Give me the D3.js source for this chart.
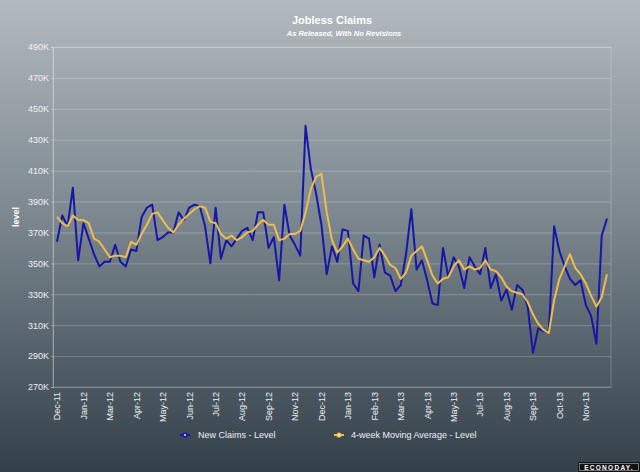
<!DOCTYPE html>
<html>
<head>
<meta charset="utf-8">
<script src="https://cdn.jsdelivr.net/npm/d3@7"></script>
<style>
  html, body { margin: 0; padding: 0; background: #3a4650; }
  svg { display: block; font-family: "Liberation Sans", Arial, sans-serif; }
</style>
</head>
<body>
<svg id="chart" width="640" height="472"></svg>
<script>
// weekly initial claims, as released (thousands), Dec-11 .. Dec-13
const newClaims = [
  364, 381, 374, 399, 352, 376, 366, 356, 348, 351, 351, 362, 351, 348, 359, 358, 380, 386, 388, 365,
  367, 370, 370, 383, 378, 386, 388, 387, 374, 350, 386, 353, 365, 361, 366, 371, 373, 365, 383, 383,
  360, 367, 339, 388, 368, 362, 355, 439, 411, 395, 375, 343, 361, 351, 372, 371, 337, 332, 368, 366,
  341, 362, 344, 342, 332, 336, 356, 385, 346, 352, 339, 324, 323, 360, 341, 354, 348, 334, 354, 348,
  343, 360, 334, 343, 326, 333, 320, 336, 333, 322, 292, 308, 306, 306, 374, 358, 348, 340, 336, 339,
  323, 316, 298, 368, 379
];
const movingAvg = [
  380, 376, 374, 381, 378, 378, 376, 366, 364, 359, 354, 355, 355, 354, 364, 362, 369, 375, 382, 383,
  378, 373, 370, 375, 379, 382, 385, 387, 386, 377, 376, 369, 366, 368, 365, 367, 370, 371, 375, 378,
  375, 375, 365, 366, 369, 369, 371, 383, 398, 406, 408, 383, 365, 357, 361, 366, 359, 353, 352, 351,
  354, 360, 355, 349, 347, 340, 344, 355, 358, 361, 352, 342, 337, 340, 341, 348, 352, 346, 348, 346,
  347, 352, 346, 345, 341, 335, 332, 331, 330, 325, 317, 311, 307, 305, 326, 340, 348, 356, 347, 343,
  337, 329, 322, 328, 343
];
// one label every 5th week
const tickLabels = [
  "Dec-11", "Jan-12", "Mar-12", "Apr-12", "May-12", "Jun-12", "Jul-12", "Aug-12", "Sep-12", "Nov-12",
  "Dec-12", "Jan-13", "Feb-13", "Mar-13", "Apr-13", "May-13", "Jul-13", "Aug-13", "Sep-13", "Oct-13", "Nov-13"
];
const yTicks = d3.range(270, 491, 20);

const svg = d3.select("#chart");
const W = 640, H = 472;
const plot = {left: 53, right: 611, top: 47, bottom: 387};

// background gradient
const defs = svg.append("defs");
const grad = defs.append("linearGradient").attr("id", "bg")
  .attr("x1", 0).attr("y1", 0).attr("x2", 0).attr("y2", 1);
grad.append("stop").attr("offset", "0%").attr("stop-color", "#b3babf");
grad.append("stop").attr("offset", "45%").attr("stop-color", "#7d8890");
grad.append("stop").attr("offset", "100%").attr("stop-color", "#333f49");
svg.append("rect").attr("width", W).attr("height", H).attr("fill", "url(#bg)");

const x = d3.scaleLinear().domain([0, newClaims.length - 1]).range([57, 607]);
const y = d3.scaleLinear().domain([270, 490]).range([plot.bottom, plot.top]);

// titles
const cx = (plot.left + plot.right) / 2;
svg.append("text").attr("x", cx).attr("y", 24).attr("text-anchor", "middle")
  .attr("fill", "#ffffff").attr("font-weight", "bold").attr("font-size", 11)
  .text("Jobless Claims");
svg.append("text").attr("x", cx + 12).attr("y", 36).attr("text-anchor", "middle")
  .attr("fill", "#ffffff").attr("font-weight", "bold").attr("font-style", "italic").attr("font-size", 7.5)
  .text("As Released, With No Revisions");

// grid
svg.append("g")
  .attr("transform", `translate(${plot.left},0)`)
  .call(d3.axisLeft(y).tickValues(yTicks).tickSize(-(plot.right - plot.left)).tickFormat(""))
  .call(g => g.select(".domain").remove())
  .selectAll("line").attr("stroke", "rgba(255,255,255,0.22)");

// frame
svg.append("rect")
  .attr("x", plot.left).attr("y", plot.top)
  .attr("width", plot.right - plot.left).attr("height", plot.bottom - plot.top)
  .attr("fill", "none").attr("stroke", "rgba(255,255,255,0.22)");

// y axis
svg.append("g")
  .attr("transform", `translate(${plot.left},0)`)
  .call(d3.axisLeft(y).tickValues(yTicks).tickSize(2).tickPadding(2).tickFormat(d => d + "K"))
  .call(g => g.select(".domain").attr("stroke", "rgba(255,255,255,0.3)"))
  .call(g => g.selectAll("line").attr("stroke", "rgba(255,255,255,0.3)"))
  .call(g => g.selectAll("text").attr("fill", "#eef1f3").attr("font-size", 9)
    .attr("font-family", "Liberation Sans, Arial, sans-serif"));

svg.append("text")
  .attr("transform", "translate(19,217) rotate(-90)")
  .attr("text-anchor", "middle").attr("fill", "#ffffff")
  .attr("font-weight", "bold").attr("font-size", 9)
  .text("level");

// x axis
const tickIdx = tickLabels.map((d, k) => k * 5);
svg.append("g")
  .attr("transform", `translate(0,${plot.bottom})`)
  .call(d3.axisBottom(x).tickValues(tickIdx).tickSize(0).tickFormat((d, k) => tickLabels[k]))
  .call(g => g.select(".domain").remove())
  .call(g => g.selectAll("text")
    .attr("fill", "#eef1f3").attr("font-size", 9)
    .attr("font-family", "Liberation Sans, Arial, sans-serif")
    .attr("text-anchor", "end")
    .attr("transform", "rotate(-90)")
    .attr("x", -5).attr("y", 0).attr("dy", "0.32em"));

// lines
const lineGen = d3.line().x((d, i) => x(i)).y(d => y(d));
svg.append("path").datum(newClaims)
  .attr("d", lineGen).attr("fill", "none")
  .attr("stroke", "#1717a6").attr("stroke-width", 2).attr("stroke-linejoin", "round");
svg.append("path").datum(movingAvg)
  .attr("d", lineGen).attr("fill", "none")
  .attr("stroke", "#ecbd4c").attr("stroke-width", 2).attr("stroke-linejoin", "round");

// legend
const legend = [
  {name: "New Claims - Level", color: "#1717a6", dot: "#dde", mx: 185, tx: 198},
  {name: "4-week Moving Average - Level", color: "#ecbd4c", dot: "#fff6c8", mx: 339, tx: 351}
];
const lg = svg.append("g").selectAll("g").data(legend).join("g");
lg.append("line")
  .attr("x1", d => d.mx - 5).attr("x2", d => d.mx + 5)
  .attr("y1", 435).attr("y2", 435)
  .attr("stroke", d => d.color).attr("stroke-width", 2);
lg.append("circle")
  .attr("cx", d => d.mx).attr("cy", 435).attr("r", 2.6)
  .attr("fill", d => d.color);
lg.append("circle")
  .attr("cx", d => d.mx).attr("cy", 435).attr("r", 1.1)
  .attr("fill", d => d.dot);
lg.append("text")
  .attr("x", d => d.tx).attr("y", 438)
  .attr("fill", "#eef1f3").attr("font-size", 9)
  .text(d => d.name);

// econoday badge
const badge = svg.append("g");
badge.append("rect").attr("x", 578).attr("y", 462).attr("width", 62).attr("height", 10)
  .attr("fill", "#111");
badge.append("rect").attr("x", 579.5).attr("y", 463.5).attr("width", 59).attr("height", 7)
  .attr("fill", "none").attr("stroke", "#bbb").attr("stroke-width", 0.6);
badge.append("text").attr("x", 609).attr("y", 469.5).attr("text-anchor", "middle")
  .attr("fill", "#fff").attr("font-size", 6.5).attr("font-weight", "bold")
  .attr("letter-spacing", 1.3)
  .text("ECONODAY.");
</script>
</body>
</html>
